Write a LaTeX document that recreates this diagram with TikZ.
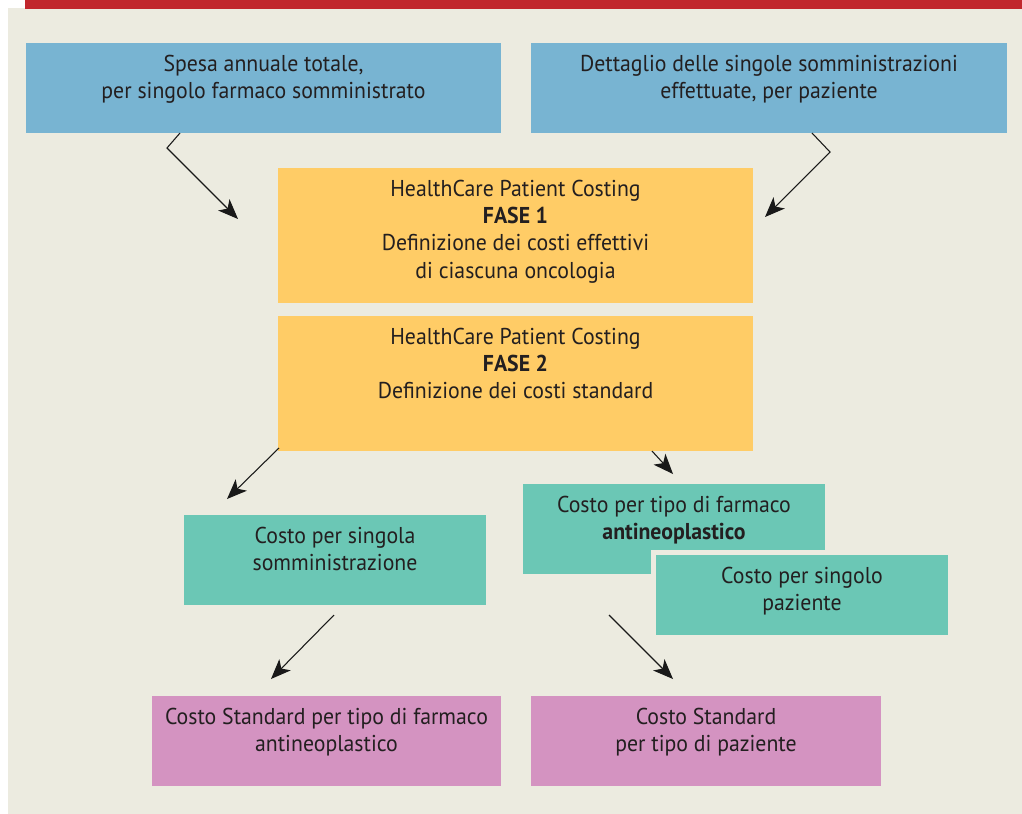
\documentclass[tikz,border=0pt]{standalone}
\usepackage{fontspec}
\setmainfont{PT Sans}[FakeStretch=0.95]
\usetikzlibrary{arrows.meta}
\definecolor{bgbeige}{HTML}{ECEBE0}
\definecolor{topred}{HTML}{C1272D}
\definecolor{boxblue}{HTML}{78B4D2}
\definecolor{boxyellow}{HTML}{FFCC66}
\definecolor{boxteal}{HTML}{6BC7B5}
\definecolor{boxpink}{HTML}{D493C1}
\definecolor{txt}{HTML}{231F20}
\tikzset{
  box/.style={rectangle, inner sep=0pt, outer sep=0pt},
  wideblue/.style={box, fill=boxblue, minimum width=356.5pt, minimum height=67.5pt},
  yellowbox/.style={box, fill=boxyellow, minimum width=356.25pt, minimum height=101.25pt},
  tealbox/.style={box, fill=boxteal, minimum width=226.5pt, minimum height=67.5pt},
  pinkbox/.style={box, fill=boxpink, minimum width=262pt, minimum height=67.5pt},
  label/.style={anchor=base, inner sep=0pt, text=txt,
    font=\fontsize{17.2pt}{20.5pt}\selectfont},
  arr/.style={draw=black!90, line width=0.8pt, line join=miter,
    -{Stealth[length=15pt,width=12pt,inset=4pt]}}
}
\newcommand{\lines}[1]{\begin{tabular}[t]{@{}c@{}}#1\end{tabular}}
\begin{document}
\begin{tikzpicture}[x=0.75pt,y=-0.75pt]
\useasboundingbox (0,0) rectangle (1022,814);
\fill[white] (0,0) rectangle (1022,814);
\fill[bgbeige] (8,8) rectangle (1022,814);
\fill[topred] (25,0) rectangle (1022,9);

% boxes
\node[wideblue] (b1) at (263.5,88) {};
\node[wideblue] (b2) at (769,88) {};
\node[yellowbox] (y1) at (515.5,235.5) {};
\node[yellowbox] (y2) at (515.5,383.5) {};
\node[tealbox] (t1) at (335,560) {};
\node[tealbox] (t2) at (674,529) {};
\node[tealbox, minimum width=219pt, minimum height=60pt,
      preaction={draw=bgbeige, line width=7.5pt}] (t3) at (802,595) {};
\node[pinkbox] (p1) at (326.5,741) {};
\node[pinkbox] (p2) at (706,741) {};

% texts
\node[label] (lb1) at ([yshift=-21.2pt]b1.north) {\lines{Spesa annuale totale,\\per singolo farmaco somministrato}};
\node[label] (lb2) at ([yshift=-21.2pt]b2.north) {\lines{Dettaglio delle singole somministrazioni\\effettuate, per paziente}};
\node[label] (ly1) at ([yshift=-21.2pt]y1.north) {\lines{HealthCare Patient Costing\\\textbf{FASE 1}\\Definizione dei costi effettivi\\di ciascuna oncologia}};
\node[label] (ly2) at ([yshift=-21.2pt]y2.north) {\lines{HealthCare Patient Costing\\\textbf{FASE 2}\\Definizione dei costi standard}};
\node[label] (lt1) at ([yshift=-21.2pt]t1.north) {\lines{Costo per singola\\somministrazione}};
\node[label] (lt2) at ([yshift=-21.2pt]t2.north) {\lines{Costo per tipo di farmaco\\\textbf{antineoplastico}}};
\node[label] (lt3) at ([yshift=-21.2pt]t3.north) {\lines{Costo per singolo\\paziente}};
\node[label] (lp1) at ([yshift=-21.2pt]p1.north) {\lines{Costo Standard per tipo di farmaco\\antineoplastico}};
\node[label] (lp2) at ([yshift=-21.2pt]p2.north) {\lines{Costo Standard\\per tipo di paziente}};

% connector ends
\coordinate (a1s) at (180,133);
\coordinate (a1m) at (167,148);
\coordinate (a1e) at (238,219);
\coordinate (a2s) at (812,133);
\coordinate (a2m) at (830,152);
\coordinate (a2e) at (765,217);
\coordinate (a3s) at (279,448);
\coordinate (a3e) at (227,499);
\coordinate (a4s) at (652,451);
\coordinate (a4e) at (673,474);
\coordinate (a5s) at (334,615);
\coordinate (a5e) at (271,679);
\coordinate (a6s) at (609,615);
\coordinate (a6e) at (673,679);

\draw[arr] (a1s) -- (a1m) -- (a1e);
\draw[arr] (a2s) -- (a2m) -- (a2e);
\draw[arr] (a3s) -- (a3e);
\draw[arr] (a4s) -- (a4e);
\draw[arr] (a5s) -- (a5e);
\draw[arr] (a6s) -- (a6e);
\end{tikzpicture}
\end{document}
